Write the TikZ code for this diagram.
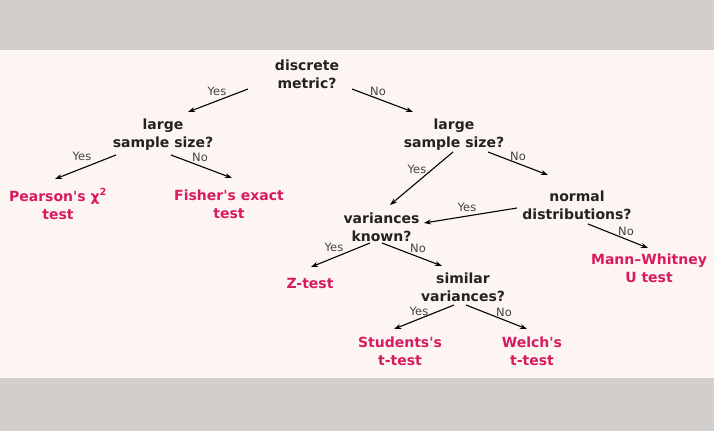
\documentclass[tikz,border=0pt]{standalone}
\usepackage{fontspec}
\setmainfont{DejaVu Sans}[Ligatures=TeXOff]
\usetikzlibrary{arrows.meta,calc}
\definecolor{band}{HTML}{D2CECC}
\definecolor{paper}{HTML}{FDF5F2}
\definecolor{ink}{HTML}{222222}
\definecolor{leafc}{HTML}{D81B60}
\definecolor{lblc}{HTML}{444444}
\begin{document}
\begin{tikzpicture}[x=1bp,y=-1bp,
  question/.style={align=center,inner sep=0pt,text=ink,
    font=\fontsize{14bp}{18bp}\selectfont\bfseries},
  leaf/.style={align=center,inner sep=0pt,text=leafc,
    font=\fontsize{14bp}{18bp}\selectfont\bfseries},
  lbl/.style={inner sep=0pt,text=lblc,font=\fontsize{11.5bp}{13bp}\selectfont},
  arr/.style={-{Stealth[length=7bp,width=5bp]},line width=1.1bp,draw=black}]
\useasboundingbox (0,0) rectangle (714,431);
\fill[band] (0,0) rectangle (714,431);
\fill[paper] (0,50) rectangle (714,378);

% questions
\node[question] (dm)   at (307,74)  {discrete\\metric?};
\node[question] (lssL) at (163,135) {large\\sample size?};
\node[question] (lssR) at (454,135) {large\\sample size?};
\node[question] (nd)   at (577,205) {normal\\distributions?};
\node[question] (vk)   at (381.5,227) {variances\\known?};
\node[question] (sv)   at (463,287) {similar\\variances?};

% outcomes
\node[leaf] (pear) at (58,204)  {Pearson's χ\textsuperscript{2}\\test};
\node[leaf] (fish) at (229,204) {Fisher's exact\\test};
\node[leaf] (mann) at (649,268) {Mann–Whitney\\U test};
\node[leaf] (ztst) at (310,283) {Z-test};
\node[leaf] (stud) at (400,351) {Students's\\t-test};
\node[leaf] (welc) at (532,351) {Welch's\\t-test};

% branches
\draw[arr] ($(dm.center)+(-59,15)$)    -- ($(lssL.center)+(25,-23)$);
\draw[arr] ($(dm.center)+(45,15)$)     -- ($(lssR.center)+(-41,-23)$);
\draw[arr] ($(lssL.center)+(-47,20)$)  -- ($(pear.center)+(-3,-25)$);
\draw[arr] ($(lssL.center)+(8,20)$)    -- ($(fish.center)+(3,-26)$);
\draw[arr] ($(lssR.center)+(-1,17)$)   -- ($(vk.center)+(8.5,-22)$);
\draw[arr] ($(lssR.center)+(34,17)$)   -- ($(nd.center)+(-29,-30)$);
\draw[arr] ($(nd.center)+(-60,3)$)     -- ($(vk.center)+(42.5,-4)$);
\draw[arr] ($(nd.center)+(11,19)$)     -- ($(mann.center)+(-1,-20)$);
\draw[arr] ($(vk.center)+(-11.5,16)$)  -- ($(ztst.center)+(1,-16)$);
\draw[arr] ($(vk.center)+(0.5,16)$)    -- ($(sv.center)+(-21,-21)$);
\draw[arr] ($(sv.center)+(-9,18)$)     -- ($(stud.center)+(-6,-22)$);
\draw[arr] ($(sv.center)+(3,18)$)      -- ($(welc.center)+(-5,-22)$);

% branch labels
\node[lbl] (l1)  at (217,91.5)  {Yes};
\node[lbl] (l2)  at (378,91.5)  {No};
\node[lbl] (l3)  at (82,156)    {Yes};
\node[lbl] (l4)  at (200,157)   {No};
\node[lbl] (l5)  at (417,169.5) {Yes};
\node[lbl] (l6)  at (518,156.5) {No};
\node[lbl] (l7)  at (467,207.5) {Yes};
\node[lbl] (l8)  at (626,231.5) {No};
\node[lbl] (l9)  at (334,247)   {Yes};
\node[lbl] (l10) at (418,248)   {No};
\node[lbl] (l11) at (419,311.5) {Yes};
\node[lbl] (l12) at (504,312)   {No};
\end{tikzpicture}
\end{document}
